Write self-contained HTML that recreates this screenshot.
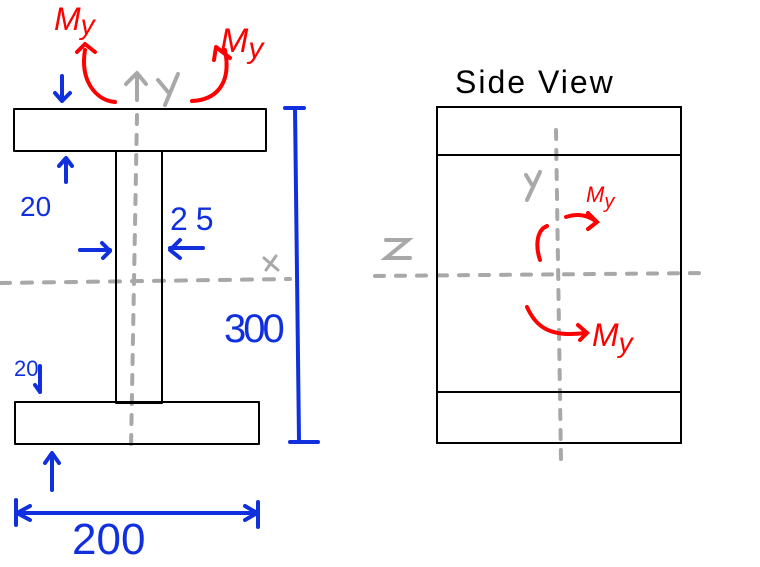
<!DOCTYPE html>
<html><head><meta charset="utf-8"><style>
html,body{margin:0;padding:0;background:#fff;}
svg{display:block;}
text{font-family:"Liberation Sans",sans-serif;}
</style></head><body>
<svg width="760" height="567" viewBox="0 0 760 567">
<g fill="none" stroke-linecap="round" stroke-linejoin="round">
  <line x1="137" y1="115" x2="131" y2="448" stroke="#a8a8a8" stroke-width="4" stroke-dasharray="9,11"/>
  <line x1="0" y1="283" x2="290" y2="279" stroke="#a8a8a8" stroke-width="4" stroke-dasharray="10,12"/>
  <rect x="14" y="109" width="252" height="42" stroke="#000" stroke-width="2"/>
  <rect x="116" y="151" width="46" height="252" stroke="#000" stroke-width="2"/>
  <rect x="15" y="402" width="244" height="42" stroke="#000" stroke-width="2"/>
  <path d="M137 100 V74 M126 84 L137 73 L146 84 M178 74 L165 105 M158 80 L168 92" stroke="#a8a8a8" stroke-width="4"/>
  <path d="M264 258 L278 270 M276 256 L266 270" stroke="#a8a8a8" stroke-width="3"/>
  <g stroke="#1030e0" stroke-width="4">
    <path d="M62 76 V101 M55 93 L62 101 L70 93"/>
    <path d="M66 182 V159 M59 166 L66 158 L72 166"/>
    <path d="M80 250 H110 M102 243 L110 251 L103 258"/>
    <path d="M203 248 H170 M180 240 L170 250 L180 258"/>
    <path d="M40 366 V392 M35 385 L40 392"/>
    <path d="M52 490 V454 M45 463 L52 453 L59 463"/>
    <path d="M285 108 H304 M295 108 L299 440 M290 442 H318"/>
    <path d="M16 500 V525 M16 513 H258 M258 502 V527 M30 506 L17 513 L30 520 M245 506 L257 513 L245 520"/>
  </g>
  <g fill="#1030e0">
    <text x="20" y="216" font-size="28">20</text>
    <text x="170" y="230" font-size="32" letter-spacing="8">25</text>
    <text x="14" y="376" font-size="22">20</text>
    <text x="224" y="342" font-size="40" letter-spacing="-3">300</text>
    <text x="72" y="554" font-size="44">200</text>
  </g>
  <g stroke="#ff0000" stroke-width="4">
    <path d="M115 102 C95 100 80 80 85 50 M77 52 L85 44 L95 52"/>
    <path d="M192 101 C215 100 232 85 225 50 M214 60 L216 47 L230 58"/>
  </g>
  <text x="54" y="30" fill="#ff0000" font-size="32" font-style="italic">M<tspan font-size="28" dy="4">y</tspan></text>
  <text x="220" y="52" fill="#ff0000" font-size="34" font-style="italic">M<tspan font-size="30" dy="6">y</tspan></text>
</g>
<g fill="none" stroke-linecap="round">
  <text x="455" y="93" fill="#000" font-size="32" letter-spacing="2">Side View</text>
  <line x1="556" y1="130" x2="561" y2="462" stroke="#a8a8a8" stroke-width="4" stroke-dasharray="9,11"/>
  <line x1="375" y1="276" x2="710" y2="273" stroke="#a8a8a8" stroke-width="4" stroke-dasharray="9,12"/>
  <rect x="437" y="107" width="244" height="336" stroke="#000" stroke-width="2"/>
  <line x1="437" y1="155" x2="681" y2="155" stroke="#000" stroke-width="2"/>
  <line x1="437" y1="392" x2="681" y2="392" stroke="#000" stroke-width="2"/>
  <path d="M386 240 H408 L386 258 H410" stroke="#a8a8a8" stroke-width="4"/>
  <path d="M526 175 L532 185 M540 172 L527 200" stroke="#a8a8a8" stroke-width="4"/>
  <g stroke="#ff0000" stroke-width="4">
    <path d="M547 226 C537 230 535 245 540 260 M566 217 C578 213 588 215 597 222 M588 213 L597 222 L588 229"/>
    <path d="M527 307 C535 325 548 338 585 333 M578 325 L587 333 L580 340"/>
  </g>
  <text x="586" y="202" fill="#ff0000" font-size="22" font-style="italic">M<tspan font-size="20" dy="6">y</tspan></text>
  <text x="592" y="346" fill="#ff0000" font-size="32" font-style="italic">M<tspan font-size="28" dy="6">y</tspan></text>
</g>
</svg>
</body></html>
